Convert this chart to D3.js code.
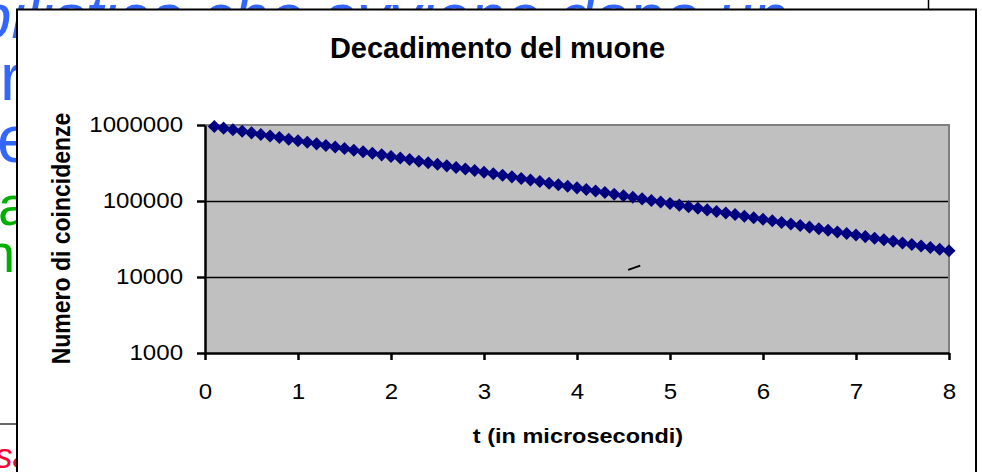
<!DOCTYPE html>
<html>
<head>
<meta charset="utf-8">
<script src="https://cdn.jsdelivr.net/npm/d3@7"></script>
<style>
  html, body { margin: 0; padding: 0; background: #fff; }
  svg { display: block; }
  text { font-family: "Liberation Sans", Arial, sans-serif; }
</style>
</head>
<body>
<svg id="chart" width="982" height="472"></svg>
<script>
// time in microseconds
const times = [
  0.1, 0.2, 0.3, 0.4, 0.5, 0.6, 0.7, 0.8, 0.9, 1.0,
  1.1, 1.2, 1.3, 1.4, 1.5, 1.6, 1.7, 1.8, 1.9, 2.0,
  2.1, 2.2, 2.3, 2.4, 2.5, 2.6, 2.7, 2.8, 2.9, 3.0,
  3.1, 3.2, 3.3, 3.4, 3.5, 3.6, 3.7, 3.8, 3.9, 4.0,
  4.1, 4.2, 4.3, 4.4, 4.5, 4.6, 4.7, 4.8, 4.9, 5.0,
  5.1, 5.2, 5.3, 5.4, 5.5, 5.6, 5.7, 5.8, 5.9, 6.0,
  6.1, 6.2, 6.3, 6.4, 6.5, 6.6, 6.7, 6.8, 6.9, 7.0,
  7.1, 7.2, 7.3, 7.4, 7.5, 7.6, 7.7, 7.8, 7.9, 8.0
];
// numero di coincidenze
const counts = [
  953500, 909200, 866900, 826600, 788100, 751500, 716500, 683200, 651400, 621200,
  592300, 564700, 538500, 513400, 489500, 466800, 445100, 424400, 404600, 385800,
  367900, 350800, 334500, 318900, 304100, 289900, 276500, 263600, 251300, 239700,
  228500, 217900, 207700, 198100, 188900, 180100, 171700, 163700, 156100, 148900,
  141900, 135300, 129000, 123000, 117300, 111900, 106700, 101700, 97000, 92500,
  88200, 84100, 80200, 76400, 72900, 69500, 66300, 63200, 60200, 57400,
  54800, 52200, 49800, 47500, 45300, 43200, 41200, 39200, 37400, 35700,
  34000, 32400, 30900, 29500, 28100, 26800, 25600, 24400, 23200, 22200
];
const xTicks = [0, 1, 2, 3, 4, 5, 6, 7, 8];
const yTicks = [1000, 10000, 100000, 1000000];
const gridValues = [10000, 100000];
// small stray stroke visible inside the plot area
const strayMark = [[4.55, 12400], [4.68, 14100]];

const titleText = "Decadimento del muone";
const xTitle = "t (in microsecondi)";
const yTitle = "Numero di coincidenze";

const svg = d3.select("#chart");

// stretch text horizontally around its anchor point
function widen(sel, sx) {
    sel.each(function() {
        const t = d3.select(this);
        const x = +t.attr("x") || 0, y = +t.attr("y") || 0;
        t.attr("transform", `translate(${x},${y}) scale(${sx},1) translate(${-x},${-y})`);
    });
}

// ---- slide content behind the chart ----
const bg = svg.append("g");
bg.append("text").attr("x", 788).attr("y", 38)
    .attr("text-anchor", "end").attr("font-size", 63.5).attr("font-style", "italic")
    .attr("fill", "#3366ff").text("probabilistica che avviene dopo un");
bg.append("text").attr("x", 0).attr("y", 100)
    .attr("font-size", 66).attr("fill", "#3366ff").text("r");
bg.append("text").attr("x", -3).attr("y", 162)
    .attr("font-size", 66).attr("fill", "#3366ff").text("e");
bg.append("text").attr("x", -2).attr("y", 225)
    .attr("font-size", 56).attr("fill", "#00b000").text("a");
bg.append("text").attr("x", -15).attr("y", 272)
    .attr("font-size", 54).attr("fill", "#00b000").text("n");
bg.append("text").attr("x", -5).attr("y", 468)
    .attr("font-size", 35).attr("font-style", "italic")
    .attr("fill", "#ff0033").text("sa");
bg.append("line").attr("x1", 0).attr("x2", 17).attr("y1", 424).attr("y2", 424)
    .attr("stroke", "#333").attr("stroke-width", 1.5);
bg.append("line").attr("x1", 928.5).attr("x2", 928.5).attr("y1", 0).attr("y2", 10)
    .attr("stroke", "#000").attr("stroke-width", 1.5);

// ---- chart area ----
svg.append("rect")
    .attr("x", 17).attr("y", 9.5).attr("width", 959).attr("height", 480)
    .attr("fill", "#fff").attr("stroke", "#000").attr("stroke-width", 2);

const plotLeft = 205, plotRight = 949, plotTop = 125, plotBottom = 353;

const x = d3.scaleLinear().domain([0, 8]).range([plotLeft, plotRight]);
const y = d3.scaleLog().domain([1000, 1000000]).range([plotBottom, plotTop]);

svg.append("rect")
    .attr("x", plotLeft).attr("y", plotTop)
    .attr("width", plotRight - plotLeft).attr("height", plotBottom - plotTop)
    .attr("fill", "#c0c0c0");

// gridlines
svg.selectAll(".grid")
    .data(gridValues)
    .enter()
    .append("line")
    .attr("class", "grid")
    .attr("x1", plotLeft).attr("x2", plotRight)
    .attr("y1", d => Math.round(y(d)) + 0.5).attr("y2", d => Math.round(y(d)) + 0.5)
    .attr("stroke", "#000").attr("stroke-width", 1.5);

// plot border top / right (gray)
svg.append("path")
    .attr("d", `M${plotLeft},${y(1000000)}H${x(8)}V${plotBottom}`)
    .attr("fill", "none").attr("stroke", "#808080").attr("stroke-width", 2);

// y axis
const yAxis = svg.append("g")
    .attr("transform", `translate(${plotLeft},0)`)
    .call(d3.axisLeft(y).tickValues(yTicks).tickFormat(d3.format("d"))
        .tickSize(8).tickSizeOuter(0).tickPadding(14));
yAxis.select(".domain").attr("stroke", "#000").attr("stroke-width", 2.5);
yAxis.selectAll(".tick line").attr("stroke", "#000").attr("stroke-width", 2.5);
yAxis.selectAll(".tick text")
    .attr("font-family", "'Liberation Sans', Arial, sans-serif")
    .attr("font-size", 21.5).attr("fill", "#000");
widen(yAxis.selectAll(".tick text"), 1.12);

// x axis
const xAxis = svg.append("g")
    .attr("transform", `translate(0,${plotBottom})`)
    .call(d3.axisBottom(x).tickValues(xTicks).tickFormat(d3.format("d"))
        .tickSize(7).tickSizeOuter(0).tickPadding(24));
xAxis.select(".domain").attr("stroke", "#000").attr("stroke-width", 2.5);
xAxis.selectAll(".tick line").attr("stroke", "#000").attr("stroke-width", 2.5);
xAxis.selectAll(".tick text")
    .attr("font-family", "'Liberation Sans', Arial, sans-serif")
    .attr("font-size", 21.5).attr("fill", "#000");
widen(xAxis.selectAll(".tick text"), 1.12);

// stray stroke
svg.append("path")
    .datum(strayMark)
    .attr("d", d3.line().x(d => x(d[0])).y(d => y(d[1])))
    .attr("stroke", "#000").attr("stroke-width", 2).attr("fill", "none");

// data markers
const points = times.map((t, i) => ({ t: t, n: counts[i] }));
const diamond = d3.symbol().type(d3.symbolSquare).size(85);
svg.selectAll(".pt")
    .data(points)
    .enter()
    .append("path")
    .attr("class", "pt")
    .attr("d", diamond)
    .attr("transform", d => `translate(${x(d.t)},${y(d.n)}) rotate(45)`)
    .attr("fill", "#000080");

// titles
svg.append("text")
    .attr("x", 497.5).attr("y", 58)
    .attr("text-anchor", "middle")
    .attr("font-size", 29).attr("font-weight", "bold")
    .text(titleText);

const xt = svg.append("text")
    .attr("x", 578).attr("y", 443)
    .attr("text-anchor", "middle")
    .attr("font-size", 21).attr("font-weight", "bold")
    .text(xTitle);
widen(xt, 1.12);

svg.append("text")
    .attr("transform", `translate(70,238.5) scale(1.1,1) rotate(-90)`)
    .attr("text-anchor", "middle")
    .attr("font-size", 23).attr("font-weight", "bold")
    .text(yTitle);
</script>
</body>
</html>
